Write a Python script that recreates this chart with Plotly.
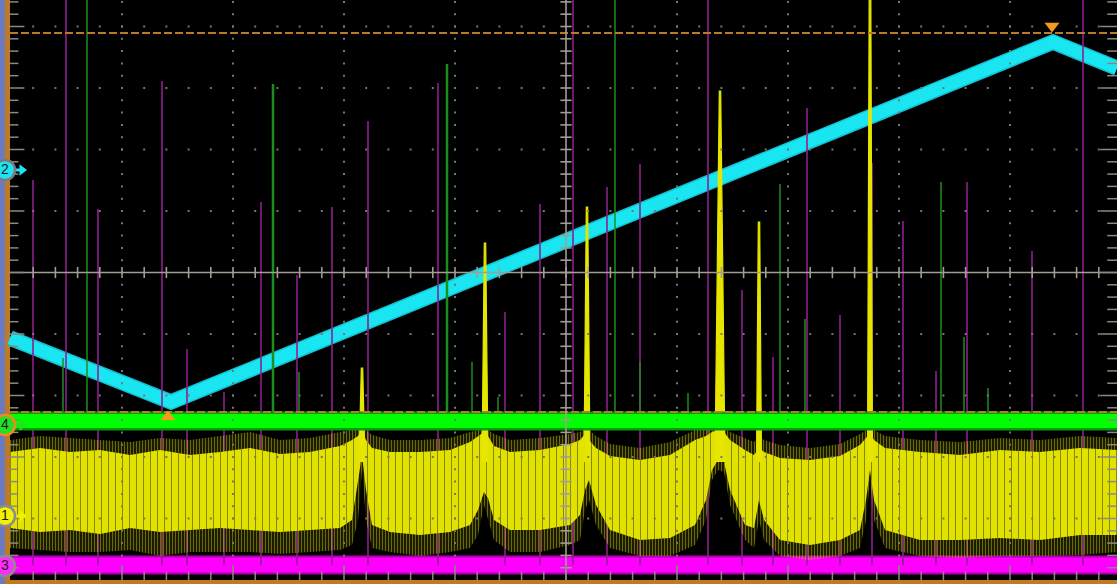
import numpy as np
import plotly.graph_objects as go

# ---- graticule calibration of the screenshot (centre pixel, pixels per division)
X0, XDIV = 566.0, 111.0
Y0, YDIV = 272.5, 61.5


def xd(p):
    return (np.asarray(p, dtype=float) - X0) / XDIV


def yd(p):
    return (Y0 - np.asarray(p, dtype=float)) / YDIV


# ---- channel 2 (cyan triangle ramp): screen readings (px)
ch2_x = [10, 171, 1053, 1117]
ch2_y = [338, 402, 42, 68]

# ---- channel 4 (green) and channel 3 (magenta) baselines (px)
ch4_level = 421
ch3_level = 565

# ---- channel 1 (yellow noise) envelope readings (px)
ch1_x = [10, 40, 70, 100, 130, 160, 190, 220, 250, 280, 310, 340, 352, 358, 362, 366, 372,
         390, 420, 450, 470, 478, 484, 488, 494, 510, 540, 570, 580, 585, 589, 596, 610,
         640, 670, 695, 706, 712, 718, 724, 730, 745, 754, 759, 764, 780, 810, 840, 860,
         866, 870, 874, 885, 920, 960, 1000, 1040, 1080, 1117]
ch1_top_in = [452, 448, 452, 450, 455, 450, 455, 452, 448, 454, 452, 446, 440, 436, 430, 440, 448,
              452, 452, 450, 442, 436, 432, 436, 446, 452, 450, 444, 440, 434, 440, 448, 456,
              460, 455, 440, 436, 432, 430, 432, 440, 450, 455, 448, 452, 458, 460, 456, 445,
              438, 432, 440, 448, 452, 455, 450, 452, 448, 450]
ch1_bot_in = [528, 532, 530, 534, 528, 532, 530, 528, 530, 532, 530, 528, 520, 480, 455, 490, 525,
              532, 535, 532, 525, 510, 492, 498, 520, 530, 530, 525, 515, 490, 480, 505, 530,
              540, 538, 525, 500, 470, 460, 462, 490, 525, 528, 500, 520, 540, 545, 540, 530,
              500, 470, 500, 530, 540, 540, 538, 540, 535, 535]
ch1_top_out = [440, 436, 438, 440, 442, 438, 440, 436, 432, 440, 438, 432, 430, 428, 425, 430, 435,
               440, 440, 438, 432, 430, 428, 430, 434, 440, 438, 434, 432, 428, 430, 436, 444,
               448, 442, 430, 430, 428, 428, 428, 432, 438, 442, 436, 440, 445, 448, 444, 434,
               430, 428, 430, 436, 440, 442, 438, 440, 436, 438]
ch1_bot_out = [548, 550, 552, 552, 550, 556, 552, 552, 552, 554, 552, 550, 545, 520, 470, 520, 548,
               552, 556, 552, 548, 535, 505, 520, 540, 552, 552, 545, 540, 510, 500, 525, 548,
               556, 556, 545, 520, 480, 470, 472, 505, 540, 548, 520, 540, 556, 560, 556, 548,
               520, 480, 520, 548, 556, 558, 556, 556, 555, 552]

# ---- glitch spikes: x position and top of spike (px)
mag_spike_x = [33, 66, 98, 162, 187, 224, 261, 297, 332, 368, 438, 505, 540, 573, 607, 640,
               708, 742, 773, 807, 840, 872, 903, 936, 967, 1032, 1083]
mag_spike_top = [180, -40, 209, 81, 349, 392, 202, 275, 207, 121, 83, 312, 204, -40, 187, 164,
                 -40, 290, 357, 108, 315, 163, 221, 371, 182, 251, -40]

grn_spike_x = [63, 87, 273, 299, 447, 472, 498, 615, 640, 688, 780, 805, 941, 964, 988]
grn_spike_top = [358, -40, 84, 372, 64, 362, 397, -40, 362, 393, 184, 319, 182, 337, 388]
grn_spike_w = [1.5, 1.5, 2.5, 1.5, 2.5, 1.5, 1.5, 1.5, 1.5, 1.5, 1.5, 1.5, 1.5, 1.5, 1.5]

yel_spike_x = [362, 485, 587, 720, 759, 870]
yel_spike_top = [368, 243, 207, 91, 222, -40]
yel_spike_halfw = [3, 3, 3, 5, 2.5, 2.5]

# ---- cursors / markers (px)
cursor_levels = [33, 412]
trig_up = (168, 417)
trig_down = (1052, 26)
chan_labels = ["2", "4", "1", "3"]
chan_levels = [170, 425, 516, 566]
chan_fill = ["#1ee3f2", "#22e022", "#f2f200", "#ff2cff"]
chan_ring = ["#7a7a7a", "#f08c1e", "#8c8c8c", "#8c8c8c"]

CYAN = "#1ae6f2"
GREEN = "#00ff00"
MAG = "#ff00ff"
YEL = "#e2e200"
GRID = "#767676"
CROSS = "#a29d93"
RULER = "#8e897f"

# screen frame (px)
LEFT, BOTTOM, RIGHT, TOP = 10, 580, 1117, 0

fig = go.Figure()

# channel 2 ramp
fig.add_trace(go.Scatter(x=xd(ch2_x), y=yd(ch2_y), mode="lines",
                         line=dict(color="#13c2d2", width=15.5)))
fig.add_trace(go.Scatter(x=xd(ch2_x), y=yd(ch2_y), mode="lines",
                         line=dict(color=CYAN, width=12.5)))

xl = xd([LEFT, RIGHT])
# channel 3 band
fig.add_trace(go.Scatter(x=xl, y=yd([ch3_level] * 2), mode="lines",
                         line=dict(color="#b000b0", width=19)))
fig.add_trace(go.Scatter(x=xl, y=yd([ch3_level] * 2), mode="lines",
                         line=dict(color=MAG, width=15)))

# magenta spikes
mx, my = [], []
for x, t in zip(mag_spike_x, mag_spike_top):
    mx += [float(xd(x)), float(xd(x)), None]
    my += [float(yd(ch3_level)), float(yd(t)), None]
fig.add_trace(go.Scatter(x=mx, y=my, mode="lines", line=dict(color="#8e208e", width=1.6)))

# channel 1 noise envelope
ex = xd(ch1_x)
poly_x = np.concatenate([ex, ex[::-1]])
fig.add_trace(go.Scatter(x=poly_x,
                         y=np.concatenate([yd(ch1_top_out), yd(ch1_bot_out)[::-1]]),
                         fill="toself", mode="lines", line=dict(width=0),
                         fillpattern=dict(shape="|", fgcolor="#d6d600", bgcolor="rgba(0,0,0,0)",
                                          size=3, solidity=0.5)))
inner_y = np.concatenate([yd(ch1_top_in), yd(ch1_bot_in)[::-1]])
fig.add_trace(go.Scatter(x=poly_x, y=inner_y, fill="toself", mode="lines",
                         line=dict(width=0), fillcolor=YEL))
fig.add_trace(go.Scatter(x=poly_x, y=inner_y, fill="toself", mode="lines",
                         line=dict(width=0),
                         fillpattern=dict(shape="|", fgcolor="#3a3a00", bgcolor="rgba(0,0,0,0)",
                                          fgopacity=0.55, size=7, solidity=0.14)))

# yellow spikes
sx, sy = [], []
for x, t, w in zip(yel_spike_x, yel_spike_top, yel_spike_halfw):
    sx += [x - w, x - 0.7, x + 0.7, x + w, None]
    sy += [462, t, t, 462, None]
sx = [None if v is None else float(xd(v)) for v in sx]
sy = [None if v is None else float(yd(v)) for v in sy]
fig.add_trace(go.Scatter(x=sx, y=sy, mode="lines", fill="toself", fillcolor="#e6e600",
                         line=dict(color="#e6e600", width=1.2)))

# channel 4 band
fig.add_trace(go.Scatter(x=xl, y=yd([ch4_level] * 2), mode="lines",
                         line=dict(color="#0b9a0b", width=19)))
fig.add_trace(go.Scatter(x=xl, y=yd([ch4_level] * 2), mode="lines",
                         line=dict(color=GREEN, width=14)))

# green spikes
for x, t, w in zip(grn_spike_x, grn_spike_top, grn_spike_w):
    fig.add_trace(go.Scatter(x=xd([x, x]), y=yd([ch4_level - 8, t]), mode="lines",
                             line=dict(color="#1c8e1c", width=w)))

# cursors
for lv in cursor_levels:
    fig.add_trace(go.Scatter(x=xl, y=yd([lv, lv]), mode="lines",
                             line=dict(color="#b97b2a", width=2, dash="8px,3px")))

# graticule dots
dots_x, dots_y = [], []
for r in [-4, -3, -2, -1, 1, 2, 3, 4]:
    for k in range(-24, 25):
        dots_x.append(k * 0.2)
        dots_y.append(r)
for c in [-4, -3, -2, -1, 1, 2, 3, 4]:
    for k in range(-24, 23):
        dots_x.append(c)
        dots_y.append(k * 0.2)
fig.add_trace(go.Scatter(x=dots_x, y=dots_y, mode="markers",
                         marker=dict(symbol="square", size=2, color=GRID, line=dict(width=0))))

# centre crosshair with ticks
fig.add_trace(go.Scatter(x=xl, y=[0, 0], mode="lines", line=dict(color=CROSS, width=1.6)))
fig.add_trace(go.Scatter(x=[0, 0], y=yd([BOTTOM, TOP]), mode="lines",
                         line=dict(color=CROSS, width=1.6)))
hx = [k * 0.2 for k in range(-24, 25)]
fig.add_trace(go.Scatter(x=hx, y=[0] * len(hx), mode="markers",
                         marker=dict(symbol="line-ns", size=8, line=dict(color=CROSS, width=1.6))))
vy = [k * 0.2 for k in range(-24, 23)]
fig.add_trace(go.Scatter(x=[0] * len(vy), y=vy, mode="markers",
                         marker=dict(symbol="line-ew", size=8, line=dict(color=CROSS, width=1.6))))

# edge rulers (left, right, bottom)
ry_minor = [k * 0.2 for k in range(-24, 23) if k % 5 != 0]
ry_major = [k * 0.2 for k in range(-24, 23) if k % 5 == 0]
rx_minor = [k * 0.2 for k in range(-24, 25) if k % 5 != 0]
rx_major = [k * 0.2 for k in range(-24, 25) if k % 5 == 0]
for xs, ys, sym, sz in [
    ([float(xd(LEFT + 3.5))] * len(ry_minor), ry_minor, "line-ew", 7),
    ([float(xd(LEFT + 6))] * len(ry_major), ry_major, "line-ew", 12),
    ([float(xd(RIGHT))] * len(ry_minor), ry_minor, "line-ew", 14),
    ([float(xd(RIGHT))] * len(ry_major), ry_major, "line-ew", 24),
    (rx_minor, [float(yd(BOTTOM - 3.5))] * len(rx_minor), "line-ns", 7),
    (rx_major, [float(yd(BOTTOM - 6))] * len(rx_major), "line-ns", 12),
]:
    fig.add_trace(go.Scatter(x=xs, y=ys, mode="markers",
                             marker=dict(symbol=sym, size=sz, line=dict(color=RULER, width=1.5))))

# trigger / position markers
fig.add_trace(go.Scatter(x=xd([trig_up[0]]), y=yd([trig_up[1]]), mode="markers",
                         marker=dict(symbol="triangle-up", size=13, color="#f59a1c",
                                     line=dict(width=0))))
fig.add_trace(go.Scatter(x=xd([trig_down[0]]), y=yd([trig_down[1]]), mode="markers",
                         marker=dict(symbol="triangle-down", size=13, color="#f59a1c",
                                     line=dict(width=0))))

# channel reference arrows and badges
for lab, lv, fc, rc in zip(chan_labels, chan_levels, chan_fill, chan_ring):
    if lab != "3":
        fig.add_trace(go.Scatter(x=xd([12, 20]), y=yd([lv, lv]), mode="lines",
                                 line=dict(color=fc, width=3)))
        fig.add_trace(go.Scatter(x=xd([22]), y=yd([lv]), mode="markers",
                                 marker=dict(symbol="triangle-right", size=10, color=fc,
                                             line=dict(width=0))))
    fig.add_trace(go.Scatter(x=xd([5]), y=yd([lv]), mode="markers+text", text=[lab],
                             textposition="middle center",
                             textfont=dict(family="Liberation Sans, Arial", size=14, color="#1a1a1a"),
                             marker=dict(symbol="circle", size=20, color=fc,
                                         line=dict(color=rc, width=2.5))))

axis_common = dict(showgrid=False, zeroline=False, showticklabels=False, showline=False,
                   ticks="", fixedrange=True)

W, H = 1117, 584
fig.update_layout(
    width=W, height=H,
    margin=dict(l=0, r=0, t=0, b=0, pad=0),
    paper_bgcolor="#000000",
    plot_bgcolor="rgba(0,0,0,0)",
    showlegend=False,
    hovermode=False,
    xaxis=dict(range=[float(xd(0)), float(xd(W))], **axis_common),
    yaxis=dict(range=[float(yd(H)), float(yd(0))], **axis_common),
    shapes=[
        dict(type="rect", xref="paper", yref="paper", x0=0, x1=5 / W, y0=0, y1=1,
             fillcolor="#6b7bc2", line=dict(width=0), layer="below"),
        dict(type="rect", xref="paper", yref="paper", x0=5 / W, x1=LEFT / W, y0=0, y1=1,
             fillcolor="#c27a22", line=dict(width=0), layer="below"),
        dict(type="rect", xref="paper", yref="paper", x0=5 / W, x1=1, y0=0, y1=(H - BOTTOM) / H,
             fillcolor="#c27a22", line=dict(width=0), layer="below"),
    ],
)

fig.write_html("out.html", config={"displayModeBar": False},
               post_script="document.body.style.margin='0px';")
